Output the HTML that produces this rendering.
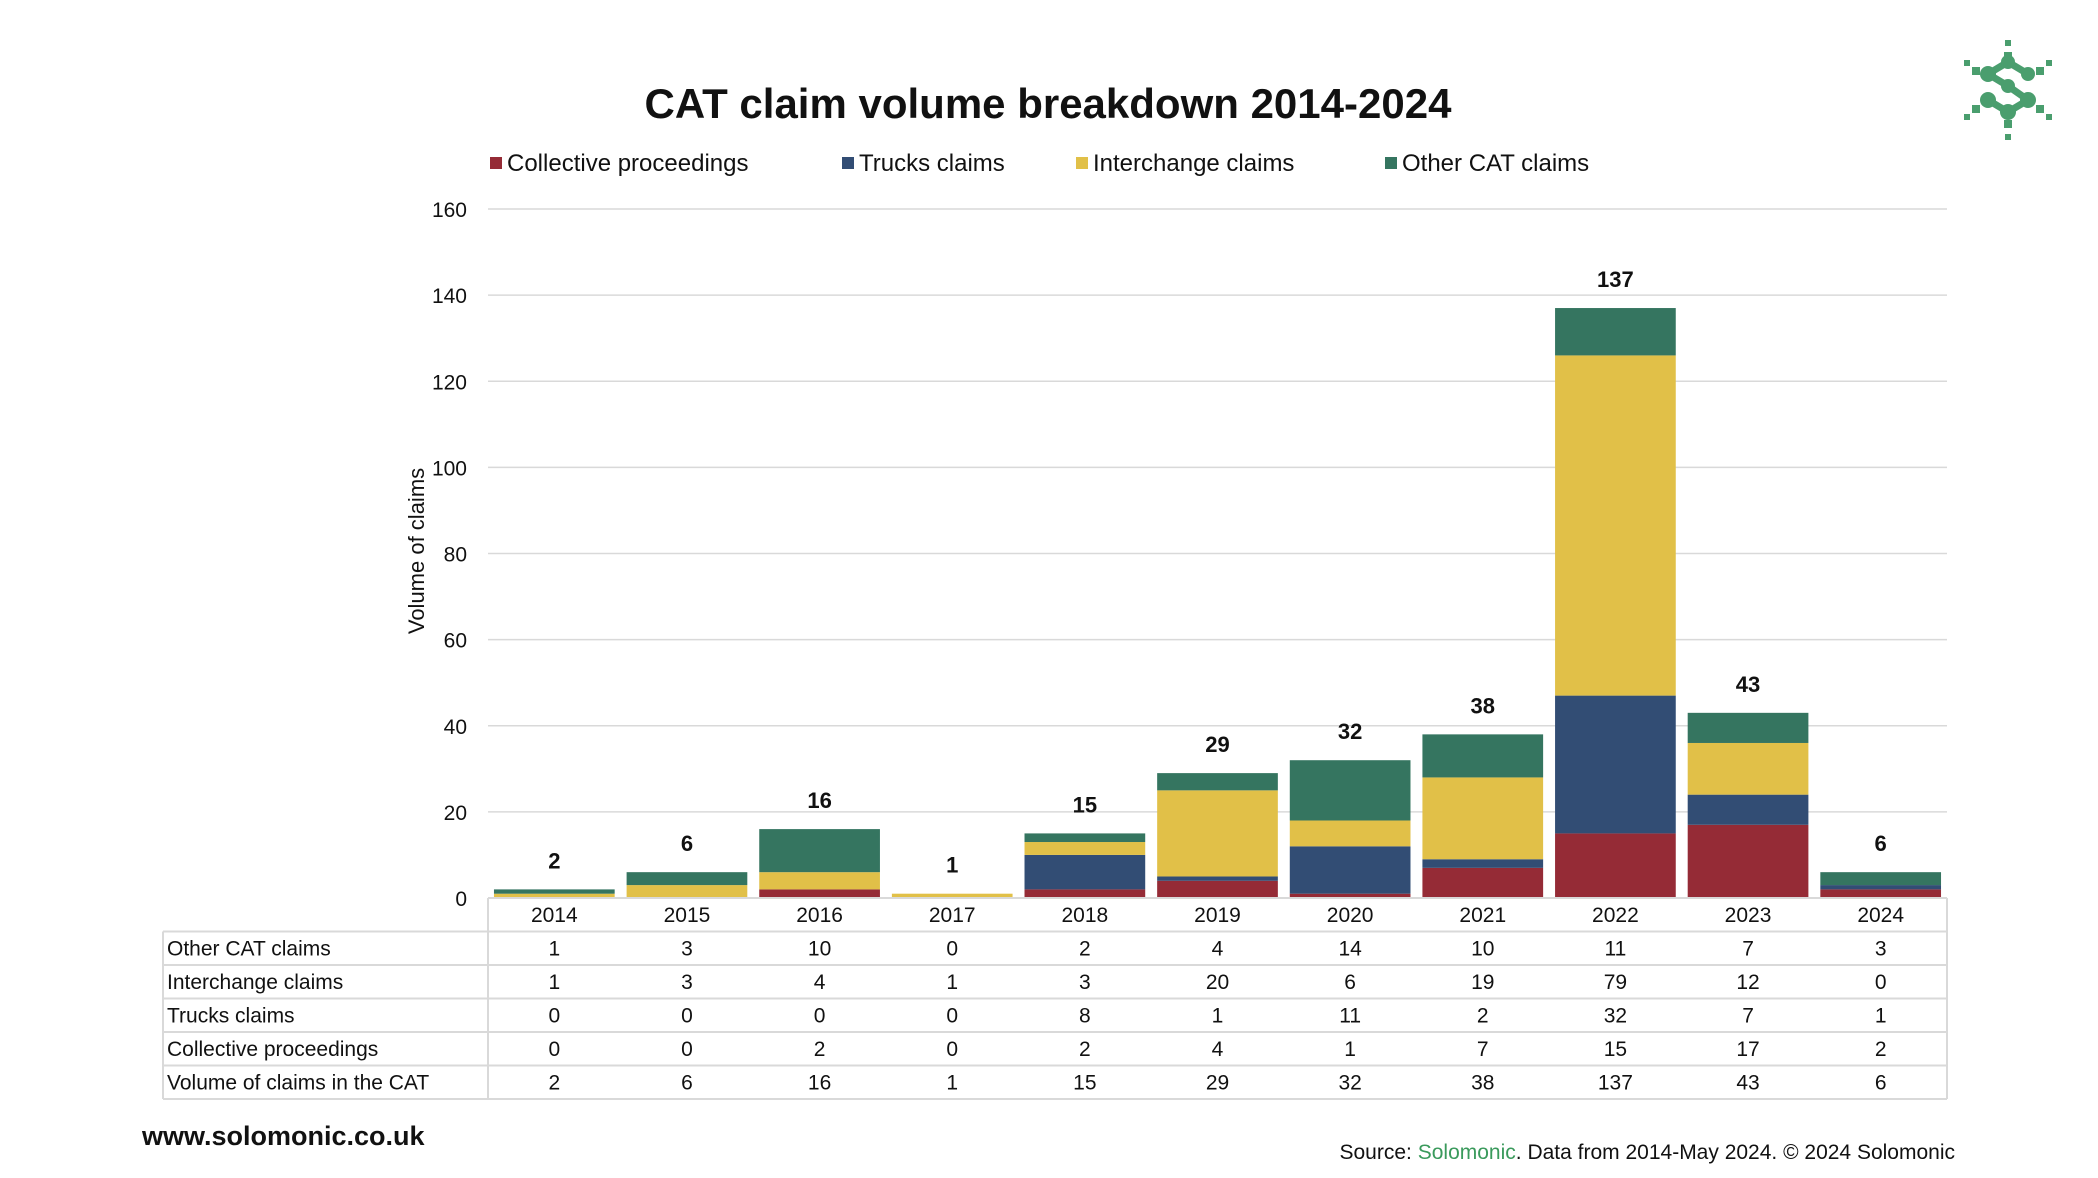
<!DOCTYPE html>
<html><head><meta charset="utf-8">
<style>
html,body{margin:0;padding:0;background:#fff;}
body{width:2098px;height:1178px;overflow:hidden;position:relative;font-family:"Liberation Sans",sans-serif;}
svg{position:absolute;left:0;top:0;}
</style></head>
<body>
<svg id="chart" width="2098" height="1178" font-family="Liberation Sans, sans-serif">
  <text x="1048" y="118" text-anchor="middle" font-size="42" font-weight="bold" fill="#111">CAT claim volume breakdown 2014-2024</text>
  <g id="legend"></g>
  <g id="grid"></g>
  <g id="bars"></g>
  <g id="table"></g>
  <text transform="translate(424,551) rotate(-90)" text-anchor="middle" font-size="22" fill="#111">Volume of claims</text>
  <text x="142" y="1145" font-size="27" font-weight="bold" fill="#111">www.solomonic.co.uk</text>
  <text x="1955" y="1159" text-anchor="end" font-size="21" fill="#111">Source: <tspan fill="#3a9a5c">Solomonic</tspan>. Data from 2014-May 2024. © 2024 Solomonic</text>
  <g fill="#4a9e6e" transform="translate(2008,90)">
    <rect x="-3" y="-50" width="6" height="6"/><rect x="-4" y="-38" width="8" height="8"/>
    <rect x="-3" y="44" width="6" height="6"/><rect x="-4" y="30" width="8" height="8"/>
    <rect x="-44" y="-30" width="6" height="6"/><rect x="-36" y="-23" width="8" height="8"/>
    <rect x="38" y="-30" width="6" height="6"/><rect x="28" y="-23" width="8" height="8"/>
    <rect x="-44" y="24" width="6" height="6"/><rect x="-36" y="15" width="8" height="8"/>
    <rect x="38" y="24" width="6" height="6"/><rect x="28" y="15" width="8" height="8"/>
    <polyline points="-20,-16 0,-28 20,-16" fill="none" stroke="#4a9e6e" stroke-width="7"/>
    <polyline points="-20,-16 0,-4 20,10 0,22 -20,10" fill="none" stroke="#4a9e6e" stroke-width="7"/>
    <circle cx="0" cy="-28" r="7"/><circle cx="20" cy="-16" r="7"/><circle cx="-20" cy="-16" r="8"/>
    <circle cx="0" cy="-4" r="7"/><circle cx="20" cy="10" r="8"/><circle cx="-20" cy="10" r="8"/><circle cx="0" cy="22" r="8"/>
  </g>
</svg>
<script>
const years = ["2014","2015","2016","2017","2018","2019","2020","2021","2022","2023","2024"];
const collective = [0,0,2,0,2,4,1,7,15,17,2];
const trucks = [0,0,0,0,8,1,11,2,32,7,1];
const interchange = [1,3,4,1,3,20,6,19,79,12,0];
const other = [1,3,10,0,2,4,14,10,11,7,3];
const totals = [2,6,16,1,15,29,32,38,137,43,6];
const yTicks = [0,20,40,60,80,100,120,140,160];
const seriesNames = ["Collective proceedings","Trucks claims","Interchange claims","Other CAT claims"];

const NS="http://www.w3.org/2000/svg";
const colors=["#952b36","#324d74","#e1c048","#357560"];
const series=[collective,trucks,interchange,other];
const X0=488,X1=1947,Y0=898,YTOP=209,YMAX=160;
const band=(X1-X0)/years.length;
const y=v=>Y0-(v/YMAX)*(Y0-YTOP);
const xc=i=>X0+band*(i+0.5);
function mk(tag,attrs,parent,txt){const e=document.createElementNS(NS,tag);for(const k in attrs)e.setAttribute(k,attrs[k]);if(txt!==undefined)e.textContent=txt;parent.appendChild(e);return e;}

const lg=document.getElementById('legend');
const lgX=[490,842,1076,1385];
seriesNames.forEach((n,i)=>{
  const g=mk('g',{},lg);
  
  
  mk('rect',{x:lgX[i],y:157,width:12,height:12,fill:colors[i]},g);
  mk('text',{x:lgX[i]+17,y:171,'font-size':24,fill:'#111'},g,n);
});

const gr=document.getElementById('grid');
yTicks.forEach(t=>{
  if(t>0){const l=mk('line',{x1:X0,x2:X1,y1:y(t),y2:y(t),stroke:'#d9d9d9','stroke-width':1.5},gr);
  }
  const tx=mk('text',{x:467,y:y(t)+8,'text-anchor':'end','font-size':21,fill:'#111'},gr,String(t));
  
});

const bg=document.getElementById('bars');
const bw=band*0.91;
years.forEach((yr,i)=>{
  let acc=0;
  series.forEach((s,k)=>{
    const v=s[i];if(v<=0)return;
    const r=mk('rect',{x:xc(i)-bw/2,y:y(acc+v),width:bw,height:y(acc)-y(acc+v),fill:colors[k]},bg);
    
    
    acc+=v;
  });
  const lb=mk('text',{x:xc(i),y:y(totals[i])-21,'text-anchor':'middle','font-size':22,'font-weight':'bold',fill:'#111'},bg,String(totals[i]));
  
  
});

const tb=document.getElementById('table');
const TL=163,rowH=33.5,C='#d9d9d9';
const rows=[["Other CAT claims",other],["Interchange claims",interchange],["Trucks claims",trucks],["Collective proceedings",collective],["Volume of claims in the CAT",totals]];
const topT=Y0+rowH;
mk('line',{x1:X0,x2:X1,y1:Y0,y2:Y0,stroke:C,'stroke-width':2},tb);
mk('line',{x1:X0,x2:X0,y1:Y0,y2:topT+rowH*rows.length,stroke:C,'stroke-width':2},tb);
mk('line',{x1:X1,x2:X1,y1:Y0,y2:topT+rowH*rows.length,stroke:C,'stroke-width':2},tb);
mk('line',{x1:TL,x2:TL,y1:topT,y2:topT+rowH*rows.length,stroke:C,'stroke-width':2},tb);
for(let r=0;r<=rows.length;r++)mk('line',{x1:TL,x2:X1,y1:topT+rowH*r,y2:topT+rowH*r,stroke:C,'stroke-width':2},tb);
years.forEach((yr,i)=>{
  const t=mk('text',{x:xc(i),y:Y0+24,'text-anchor':'middle','font-size':21,fill:'#111'},tb,yr);
  
  
});
rows.forEach((row,r)=>{
  const by=topT+rowH*r+24;
  const h=mk('text',{x:TL+4,y:by,'font-size':21,fill:'#111'},tb,row[0]);
  
  
  row[1].forEach((v,i)=>{
    const c=mk('text',{x:xc(i),y:by,'text-anchor':'middle','font-size':21,fill:'#111'},tb,String(v));
    
    
  });
});
</script>
</body></html>
